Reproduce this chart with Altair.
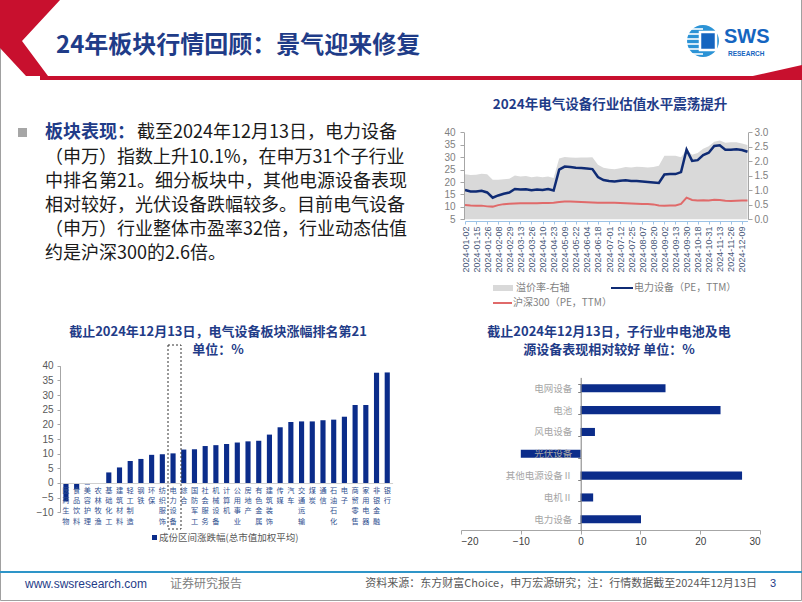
import altair as alt
import pandas as pd

# ---------------- data ----------------
dates = ["2024-01-02","2024-01-08","2024-01-15","2024-01-19","2024-01-26","2024-02-01","2024-02-08","2024-02-21",
         "2024-02-29","2024-03-06","2024-03-13","2024-03-19","2024-03-26","2024-04-02","2024-04-10","2024-04-17",
         "2024-04-23","2024-04-29","2024-05-09","2024-05-15","2024-05-22","2024-05-28","2024-06-04","2024-06-11",
         "2024-06-18","2024-06-24","2024-07-01","2024-07-05","2024-07-12","2024-07-18","2024-07-25","2024-07-31",
         "2024-08-07","2024-08-13","2024-08-20","2024-08-26","2024-09-02","2024-09-06","2024-09-13","2024-09-23",
         "2024-09-30","2024-10-11","2024-10-18","2024-10-24","2024-10-31","2024-11-06","2024-11-13","2024-11-19",
         "2024-11-26","2024-12-02","2024-12-09","2024-12-13"]
pe_power = [16.8,16.2,16.2,16.5,15.8,13.7,14.6,15.3,15.8,17.2,17.0,17.1,16.7,17.0,16.8,17.2,16.6,25.0,26.2,26.0,
            25.7,25.6,25.4,25.2,22.0,20.8,20.4,20.2,20.5,20.7,20.4,20.4,20.2,20.0,19.8,19.6,23.0,23.2,23.2,24.0,
            33.0,28.5,28.8,30.8,31.8,34.5,34.8,33.0,33.0,33.2,32.9,32.2]
pe_hs300 = [10.8,10.6,10.5,10.5,10.2,10.1,10.7,11.1,11.3,11.4,11.5,11.5,11.5,11.5,11.6,11.6,11.7,12.0,12.2,12.2,
            12.1,12.0,11.9,11.8,11.7,11.7,11.7,11.7,11.6,11.5,11.4,11.3,11.2,11.2,11.0,10.6,10.5,10.6,10.6,11.2,
            13.7,12.8,12.6,12.7,12.6,12.9,12.8,12.5,12.4,12.5,12.6,12.6]
premium = [1.55,1.53,1.54,1.57,1.55,1.36,1.36,1.38,1.40,1.51,1.48,1.49,1.45,1.48,1.45,1.48,1.42,2.10,2.15,2.13,
           2.12,2.13,2.13,2.14,1.88,1.78,1.74,1.73,1.76,1.80,1.79,1.81,1.80,1.79,1.80,1.85,2.19,2.19,2.19,2.14,
           2.41,2.23,2.29,2.43,2.52,2.67,2.72,2.64,2.66,2.66,2.61,2.56]
label_dates = ["2024-01-02","2024-01-15","2024-01-26","2024-02-08","2024-02-29","2024-03-13","2024-03-26",
               "2024-04-10","2024-04-23","2024-05-09","2024-05-22","2024-06-04","2024-06-18","2024-07-01",
               "2024-07-12","2024-07-25","2024-08-07","2024-08-20","2024-09-02","2024-09-13","2024-09-30",
               "2024-10-18","2024-10-31","2024-11-13","2024-11-26","2024-12-09"]
left_ticks = [5, 10, 15, 20, 25, 30, 35, 40]
right_ticks = [0.0, 0.5, 1.0, 1.5, 2.0, 2.5, 3.0]

ind_names = ["医药生物","食品饮料","美容护理","农林牧渔","基础化工","建筑材料","轻工制造","钢铁","环保","纺织服饰",
             "电力设备","综合","国防军工","社会服务","机械设备","计算机","公用事业","房地产","有色金属","建筑装饰",
             "传媒","汽车","交通运输","煤炭","通信","石油石化","电子","商贸零售","家用电器","非银金融","银行"]
ind_chg = [-6.3,-2.1,-0.5,-0.2,3.6,5.3,7.5,8.2,9.6,9.8,10.1,11.4,11.5,12.6,12.9,13.3,13.8,14.2,14.4,16.5,
           19.0,20.8,21.0,21.0,21.4,21.6,22.6,26.6,26.6,37.6,37.7]
ind_ticks = [-10, -5, 0, 5, 10, 15, 20, 25, 30, 35, 40]

sub_names = ["电网设备","电池","风电设备","光伏设备","其他电源设备Ⅱ","电机Ⅱ","电力设备"]
sub_chg = [14.2, 23.4, 2.4, -10.0, 27.0, 2.1, 10.1]
sub_ticks = [-20, -10, 0, 10, 20, 30]

body_lines = ["（申万）指数上升10.1%，在申万31个子行业",
              "中排名第21。细分板块中，其他电源设备表现",
              "相对较好，光伏设备跌幅较多。目前电气设备",
              "（申万）行业整体市盈率32倍，行业动态估值",
              "约是沪深300的2.6倍。"]

# ---------------- styles ----------------
CJK = "Noto Sans CJK SC"
LAT = "Liberation Sans"
NAVY = "#1F3C88"
BAR = "#0B2C8A"
LBLUE = "#0F2B74"
RED = "#E06A6A"
GRAY_T = "#595959"


def one():
    return alt.InlineData(values=[{"k": 0}])


def txt(s, x, y, size, color, weight="normal", align="left", font=CJK, baseline="middle"):
    return alt.Chart(one()).mark_text(fontSize=size, color=color, fontWeight=weight, align=align,
                                      baseline=baseline, font=font).encode(
        x=alt.value(x), y=alt.value(y), text=alt.value(s))


def rule(x1, y1, x2, y2, color, w=1, dash=None):
    kw = dict(color=color, strokeWidth=w)
    if dash:
        kw["strokeDash"] = dash
    return alt.Chart(one()).mark_rule(**kw).encode(
        x=alt.value(x1), y=alt.value(y1), x2=alt.value(x2), y2=alt.value(y2))


def rect(x1, y1, x2, y2, fill, stroke=None, dash=None, sw=1):
    kw = dict()
    if fill:
        kw["fill"] = fill
    else:
        kw["fillOpacity"] = 0
    if stroke:
        kw["stroke"] = stroke
        kw["strokeWidth"] = sw
    if dash:
        kw["strokeDash"] = dash
    return alt.Chart(one()).mark_rect(**kw).encode(
        x=alt.value(x1), x2=alt.value(x2), y=alt.value(y1), y2=alt.value(y2))


def poly(path, color):
    return alt.Chart(one()).mark_point(shape=path, filled=True, size=4, opacity=1, color=color,
                                       strokeWidth=0).encode(x=alt.value(0), y=alt.value(0))


layers = []

# slide border
layers.append(rect(0.5, -2, 801.5, 600.5, None, stroke="#A0A0A0"))

# header decoration
layers.append(poly("M0,0 L60,0 L22,41 L48,76 L26,76 L0,48 Z", "#C8102E"))
layers.append(poly("M40,76 L802,76 L802,80 L40,80 Z", "#C8102E"))
layers.append(poly("M735,80 L802,65 L802,80 Z", "#C8102E"))
layers.append(txt("24年板块行情回顾：景气迎来修复", 56, 46, 24, NAVY, weight="bold"))

# logo
layers.append(alt.Chart(one()).mark_point(shape="circle", filled=True, size=1018, opacity=1,
                                          color="#2B93D6").encode(x=alt.value(703), y=alt.value(41)))
for dy in [-12, -7, -2, 3, 8, 13]:
    hw = (18 ** 2 - dy ** 2) ** 0.5
    layers.append(rule(703 - hw + 1, 41 + dy, 703, 41 + dy, "white", w=1.6))
layers.append(rect(700, 32, 716, 50, "#1565C0", stroke="white", sw=2.5))
layers.append(txt("SWS", 724, 37, 20, "#1565C0", weight="bold", font=LAT))
layers.append(txt("RESEARCH", 728, 54, 6.5, "#1565C0", weight="bold", font=LAT))

# left paragraph
layers.append(rect(18, 128, 27, 137, "#A6A6A6"))
layers.append(txt("板块表现：", 45, 133, 18, NAVY, weight="bold"))
layers.append(txt("截至2024年12月13日，电力设备", 137, 133, 18, "#1A1A1A"))
for i, s in enumerate(body_lines):
    layers.append(txt(s, 45, 157.5 + i * 24.2, 18, "#1A1A1A"))

# ---------------- chart 1: valuation ----------------
df1 = pd.DataFrame({"date": dates, "pe": pe_power, "hs": pe_hs300, "prem": premium})
xs1 = alt.Scale(type="point", range=[465, 747.5], padding=0)
yl1 = alt.Scale(domain=[5, 40], range=[219.3, 132.3], nice=False, zero=False)
yr1 = alt.Scale(domain=[0, 3], range=[219.3, 132.3], nice=False)

layers.append(txt("2024年电气设备行业估值水平震荡提升", 610, 105, 13.5, NAVY, weight="bold", align="center"))

area1 = alt.Chart(df1).mark_area(color="#D9D9D9", opacity=1).encode(
    x=alt.X("date:O", sort=dates, scale=xs1,
            axis=alt.Axis(orient="bottom", offset=-381, values=label_dates, labelAngle=270, title=None,
                          labelFont=LAT, labelFontSize=9, labelColor="#4A5A7A", domainColor="#9DC3E6",
                          tickColor="#9DC3E6", tickSize=3, labelPadding=2, grid=False, zindex=1)),
    y=alt.Y("prem:Q", scale=yr1,
            axis=alt.Axis(orient="right", offset=-54, values=right_ticks, format=".1f", title=None,
                          labelFont=LAT, labelFontSize=10, labelColor="#7F7F7F", domainColor="#A6A6A6",
                          tickColor="#A6A6A6", tickSize=4, labelPadding=2, grid=False, zindex=1)))
layers.append(area1)

hs1 = alt.Chart(df1).mark_line(color=RED, strokeWidth=2).encode(
    x=alt.X("date:O", sort=dates, scale=xs1, axis=None),
    y=alt.Y("hs:Q", scale=yl1, axis=None))
layers.append(hs1)

pw1 = alt.Chart(df1).mark_line(color=LBLUE, strokeWidth=2.5).encode(
    x=alt.X("date:O", sort=dates, scale=xs1, axis=None),
    y=alt.Y("pe:Q", scale=yl1,
            axis=alt.Axis(orient="left", offset=-464, values=left_ticks, title=None, labelFont=LAT,
                          labelFontSize=10, labelColor="#7F7F7F", domainColor="#A6A6A6",
                          tickColor="#A6A6A6", tickSize=4, labelPadding=5, grid=False, zindex=1)))
layers.append(pw1)

# legend chart 1
layers.append(rect(493, 285, 513, 291, "#D9D9D9"))
layers.append(txt("溢价率-右轴", 516, 288, 10, "#7F7F7F"))
layers.append(rule(611, 288, 633, 288, LBLUE, w=2))
layers.append(txt("电力设备（PE，TTM）", 634, 288, 10, "#7F7F7F"))
layers.append(rule(493, 303, 512, 303, RED, w=2))
layers.append(txt("沪深300（PE，TTM）", 513, 303, 10, "#7F7F7F"))

# ---------------- chart 2: industries ----------------
df2 = pd.DataFrame({"ind": ind_names, "chg": ind_chg})
# vertical (stacked) category labels: one row per character, built from ind_names
df2c = pd.DataFrame([{"ind": n, "ch": c, "pos": j} for n in ind_names for j, c in enumerate(n)])
xs2 = alt.Scale(type="band", domain=ind_names, range=[60.6, 392.6], paddingInner=0.52, paddingOuter=0.26)
ys2 = alt.Scale(domain=[-10, 40], range=[512.3, 365.7], nice=False)
yc2 = alt.Scale(domain=[0, 3], range=[490.5, 521.9], nice=False, zero=False)

layers.append(txt("截止2024年12月13日，电气设备板块涨幅排名第21", 218, 332, 13, NAVY, weight="bold",
                  align="center"))
layers.append(txt("单位：%", 218, 350, 13, NAVY, weight="bold", align="center"))

bars2 = alt.Chart(df2).mark_bar(color=BAR).encode(
    x=alt.X("ind:N", sort=ind_names, scale=xs2,
            axis=alt.Axis(orient="bottom", offset=-119, labels=False, ticks=False, domainColor="#D0D0D0",
                          title=None, grid=False, zindex=1)),
    y=alt.Y("chg:Q", scale=ys2,
            axis=alt.Axis(orient="left", offset=-60, values=ind_ticks, title=None, labelFont=LAT,
                          labelFontSize=10, labelColor=GRAY_T, domainColor="#A6A6A6", tickColor="#A6A6A6",
                          tickSize=3, labelPadding=4, grid=False, zindex=1)))
layers.append(bars2)

chars2 = alt.Chart(df2c).mark_text(font=CJK, fontSize=7.2, color="#2F4F8F", align="center",
                                   baseline="middle").encode(
    x=alt.X("ind:N", sort=ind_names, scale=xs2, axis=None),
    y=alt.Y("pos:Q", scale=yc2, axis=None),
    text="ch:N")
layers.append(chars2)

layers.append(rect(168, 345, 181, 529, None, stroke="#333333", dash=[2, 2], sw=1))
layers.append(rect(152, 535, 157, 540, BAR))
layers.append(txt("成份区间涨跌幅(总市值加权平均)", 159, 538, 9.5, GRAY_T))

# ---------------- chart 3: sub-industries ----------------
df3 = pd.DataFrame({"sub": sub_names, "chg": sub_chg})
ys3 = alt.Scale(type="band", domain=sub_names, range=[377.4, 530.2], paddingInner=0.63, paddingOuter=0.315)
xs3 = alt.Scale(domain=[-20, 30], range=[461, 760], nice=False)

layers.append(txt("截止2024年12月13日，子行业中电池及电", 609, 332, 13, NAVY, weight="bold", align="center"))
layers.append(txt("源设备表现相对较好 单位：%", 609, 350, 13, NAVY, weight="bold", align="center"))

bars3 = alt.Chart(df3).mark_bar(color=BAR).encode(
    y=alt.Y("sub:N", sort=sub_names, scale=ys3,
            axis=alt.Axis(orient="left", offset=-580.7, tickBand="extent", title=None, labelFont=CJK,
                          labelFontSize=9.5, labelColor="#A6A6A6", domainColor="#7F7F7F",
                          tickColor="#7F7F7F", tickSize=3, labelPadding=6, grid=False, zindex=1)),
    x=alt.X("chg:Q", scale=xs3,
            axis=alt.Axis(orient="bottom", offset=-72, values=sub_ticks, title=None, labelFont=LAT,
                          labelFontSize=10, labelColor="#404040", domainColor="#A6A6A6",
                          tickColor="#A6A6A6", tickSize=4, labelPadding=2, grid=False, zindex=1)))
layers.append(bars3)

# ---------------- footer ----------------
layers.append(rule(0, 572, 802, 572, "#2E95C8", w=2))
layers.append(txt("www.swsresearch.com", 25, 584, 12, "#1F3C88", font=LAT))
layers.append(txt("证券研究报告", 170, 584, 12, "#7F7F7F"))
layers.append(txt("资料来源：东方财富Choice，申万宏源研究；注：行情数据截至2024年12月13日", 757, 584, 11,
                  "#595959", align="right"))
layers.append(txt("3", 770, 584, 11, "#1F3C88", font=LAT))

chart = alt.layer(*layers).resolve_scale(x="independent", y="independent").properties(
    width=802, height=602, padding=0, background="white",
    autosize=alt.AutoSizeParams(type="none")
).configure_view(stroke=None)

chart.save("out.html", embed_options={"renderer": "svg", "actions": False})
